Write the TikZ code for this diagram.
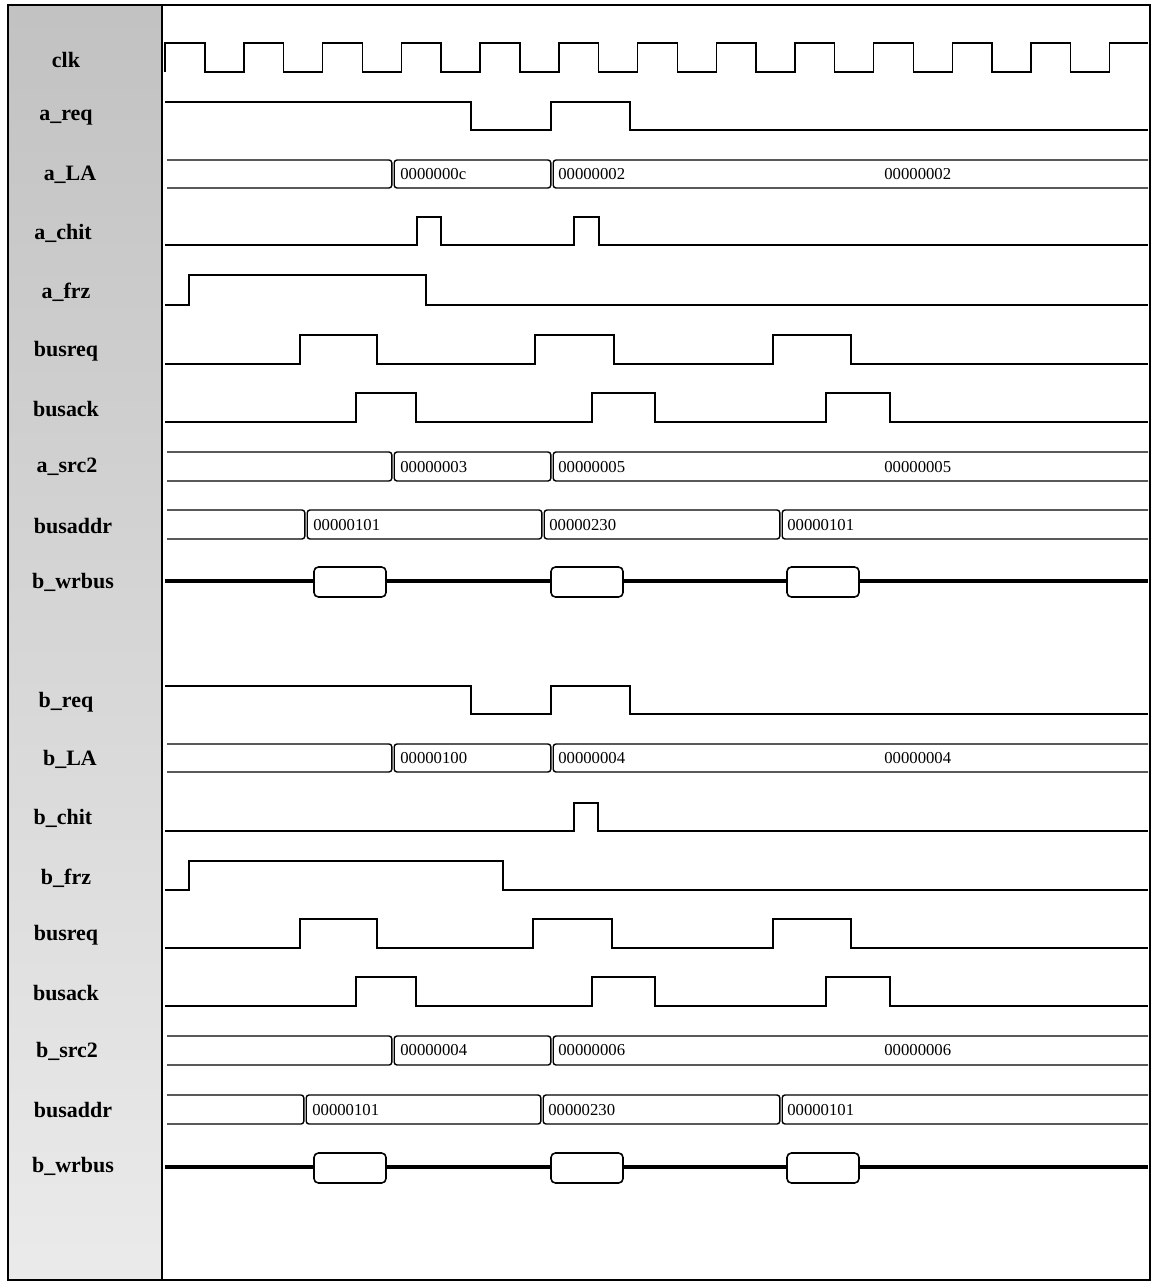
\documentclass[tikz,border=0pt]{standalone}
\usepackage{fontspec}
\setmainfont{Liberation Serif}
\newcommand{\tdfirst}[3]{\draw[busline] (167,#1) -- ({#3-1.2},#1) -- ({#3-1.2},#2) -- (167,#2);}
\newcommand{\tdmid}[4]{\draw[busline] ({#3+1.2},#1) rectangle ({#4-1.2},#2);}
\newcommand{\tdlast}[3]{\draw[busline] (1148,#1) -- ({#3+1.2},#1) -- ({#3+1.2},#2) -- (1148,#2);}
\begin{document}
\begin{tikzpicture}[x=0.02cm,y=-0.02cm,
  sig/.style={line width=0.8pt, line join=miter},
  busline/.style={line width=0.8pt, rounded corners=1.6pt},
  lbl/.style={font=\fontsize{12.5}{14}\selectfont\bfseries, inner sep=0pt},
  val/.style={font=\fontsize{9.5}{11}\selectfont, anchor=west, inner sep=0pt},
  wr/.style={line width=2.2pt},
  wrbox/.style={line width=0.9pt, rounded corners=2.5pt, fill=white}]
\useasboundingbox (0,0) rectangle (1152,1283);
% label panel
\shade[top color=black!24, bottom color=black!8] (8,5) rectangle (162,1280);
\draw[line width=1.1pt] (8,5) rectangle (1150,1280);
\draw[line width=1.1pt] (162,5) -- (162,1280);

% ---------- labels ----------
\node[lbl] (lclk)   at (66,60)  {clk};
\node[lbl] (lareq)  at (66,118) {a\_req};
\node[lbl] (lala)   at (70,175) {a\_LA};
\node[lbl] (lachit) at (63,233) {a\_chit};
\node[lbl] (lafrz)  at (66,292) {a\_frz};
\node[lbl] (lbrqa)  at (66,351) {busreq};
\node[lbl] (lbaka)  at (66,409) {busack};
\node[lbl] (lasrc)  at (67,467) {a\_src2};
\node[lbl] (ladra)  at (73,526) {busaddr};
\node[lbl] (lwra)   at (73,582) {b\_wrbus};
\node[lbl] (lbreq)  at (66,702) {b\_req};
\node[lbl] (lbla)   at (70,759) {b\_LA};
\node[lbl] (lbchit) at (63,818) {b\_chit};
\node[lbl] (lbfrz)  at (66,878) {b\_frz};
\node[lbl] (lbrqb)  at (66,935) {busreq};
\node[lbl] (lbakb)  at (66,993) {busack};
\node[lbl] (lbsrc)  at (67,1051) {b\_src2};
\node[lbl] (ladrb)  at (73,1110) {busaddr};
\node[lbl] (lwrb)   at (73,1166) {b\_wrbus};

% ---------- clk ----------
\draw[sig] (165,72) -- (165,43)
  \foreach \k in {0,...,11} { -- ({205+78.7*\k},43) -- ({205+78.7*\k},72) -- ({244+78.7*\k},72) -- ({244+78.7*\k},43) }
  -- (1148,43);

% ---------- section a ----------
\draw[sig] (165,102) -- (471,102) -- (471,130) -- (551,130) -- (551,102) -- (630,102) -- (630,130) -- (1148,130);
\tdfirst{160}{188}{393}
\tdmid{160}{188}{393}{552}
\tdlast{160}{188}{552}
\node[val] (va1) at (400,174) {0000000c};
\node[val] (va2) at (558,174) {00000002};
\node[val] (va3) at (884,174) {00000002};
\draw[sig] (165,245) -- (417,245) -- (417,217) -- (441,217) -- (441,245) -- (574,245) -- (574,217) -- (599,217) -- (599,245) -- (1148,245);
\draw[sig] (165,305) -- (189,305) -- (189,275) -- (426,275) -- (426,305) -- (1148,305);
\draw[sig] (165,364) -- (300,364) -- (300,335) -- (377,335) -- (377,364) -- (535,364) -- (535,335) -- (614,335) -- (614,364) -- (773,364) -- (773,335) -- (851,335) -- (851,364) -- (1148,364);
\draw[sig] (165,422) -- (356,422) -- (356,393) -- (416,393) -- (416,422) -- (592,422) -- (592,393) -- (655,393) -- (655,422) -- (826,422) -- (826,393) -- (890,393) -- (890,422) -- (1148,422);
\tdfirst{452}{481}{393}
\tdmid{452}{481}{393}{552}
\tdlast{452}{481}{552}
\node[val] (vs1) at (400,467) {00000003};
\node[val] (vs2) at (558,467) {00000005};
\node[val] (vs3) at (884,467) {00000005};
\tdfirst{510}{539}{306}
\tdmid{510}{539}{306}{543}
\tdmid{510}{539}{543}{781}
\tdlast{510}{539}{781}
\node[val] (vd1) at (313,525) {00000101};
\node[val] (vd2) at (549,525) {00000230};
\node[val] (vd3) at (787,525) {00000101};
\draw[wr] (165,581) -- (1148,581);
\draw[wrbox] (314,567) rectangle (386,597);
\draw[wrbox] (551,567) rectangle (623,597);
\draw[wrbox] (787,567) rectangle (859,597);

% ---------- section b ----------
\draw[sig] (165,686) -- (471,686) -- (471,714) -- (551,714) -- (551,686) -- (630,686) -- (630,714) -- (1148,714);
\tdfirst{744}{772}{393}
\tdmid{744}{772}{393}{552}
\tdlast{744}{772}{552}
\node[val] (vb1) at (400,758) {00000100};
\node[val] (vb2) at (558,758) {00000004};
\node[val] (vb3) at (884,758) {00000004};
\draw[sig] (165,831) -- (574,831) -- (574,803) -- (598,803) -- (598,831) -- (1148,831);
\draw[sig] (165,890) -- (189,890) -- (189,861) -- (503,861) -- (503,890) -- (1148,890);
\draw[sig] (165,948) -- (300,948) -- (300,919) -- (377,919) -- (377,948) -- (533,948) -- (533,919) -- (612,919) -- (612,948) -- (773,948) -- (773,919) -- (851,919) -- (851,948) -- (1148,948);
\draw[sig] (165,1006) -- (356,1006) -- (356,977) -- (416,977) -- (416,1006) -- (592,1006) -- (592,977) -- (655,977) -- (655,1006) -- (826,1006) -- (826,977) -- (890,977) -- (890,1006) -- (1148,1006);
\tdfirst{1036}{1065}{393}
\tdmid{1036}{1065}{393}{552}
\tdlast{1036}{1065}{552}
\node[val] (vt1) at (400,1050) {00000004};
\node[val] (vt2) at (558,1050) {00000006};
\node[val] (vt3) at (884,1050) {00000006};
\tdfirst{1095}{1124}{305}
\tdmid{1095}{1124}{305}{542}
\tdmid{1095}{1124}{542}{781}
\tdlast{1095}{1124}{781}
\node[val] (ve1) at (312,1110) {00000101};
\node[val] (ve2) at (548,1110) {00000230};
\node[val] (ve3) at (787,1110) {00000101};
\draw[wr] (165,1167) -- (1148,1167);
\draw[wrbox] (314,1153) rectangle (386,1183);
\draw[wrbox] (551,1153) rectangle (623,1183);
\draw[wrbox] (787,1153) rectangle (859,1183);
\end{tikzpicture}
\end{document}
